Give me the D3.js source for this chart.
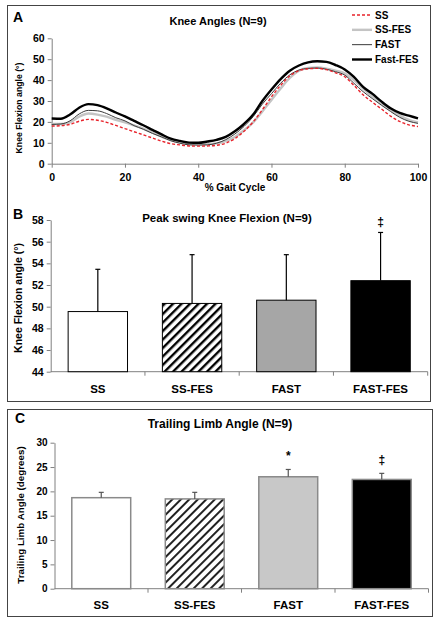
<!DOCTYPE html>
<html><head><meta charset="utf-8">
<script src="https://cdn.jsdelivr.net/npm/d3@7"></script>
<style>
body{margin:0;background:#fff}
svg{display:block}
text{font-family:"Liberation Sans",Arial,sans-serif;font-weight:bold;fill:#000}
</style>
</head><body>
<svg id="chart" width="439" height="625"></svg>
<script>
// ---------- DATA ----------
const gaitPct = [0,2.5,5,7.5,10,12.5,15,17.5,20,22.5,25,27.5,30,32.5,35,37.5,40,42.5,45,47.5,50,52.5,55,57.5,60,62.5,65,67.5,70,72.5,75,77.5,80,82.5,85,87.5,90,92.5,95,97.5,100];
const kneeSS     = [18.0,18.2,18.8,20.3,21.2,20.8,19.8,18.3,16.8,15.3,13.8,12.3,10.8,9.6,9.0,8.5,8.4,8.5,8.8,9.8,12.0,15.5,20.0,25.8,32.0,37.5,42.0,44.5,45.4,45.6,45.0,43.5,41.6,37.5,33.0,29.5,26.2,22.8,20.2,18.6,17.8];
const kneeSSFES  = [19.0,19.0,19.8,22.5,24.0,23.5,22.5,21.0,19.8,18.3,16.8,14.8,13.0,11.3,10.2,9.5,9.4,9.4,9.7,10.8,12.8,16.0,19.8,25.0,30.5,36.0,41.0,44.5,45.8,46.0,45.5,44.5,43.2,40.0,36.0,32.2,28.8,25.8,23.0,21.0,19.8];
const kneeFAST   = [18.8,19.0,20.5,23.8,25.5,25.3,24.0,22.0,20.5,18.2,16.5,14.5,12.8,11.0,9.8,9.0,8.9,9.0,9.8,11.5,14.2,17.8,22.5,28.5,33.5,38.5,42.5,44.8,45.6,45.8,45.2,44.0,42.4,38.5,34.5,31.2,28.0,25.0,22.2,20.3,19.3];
const kneeFastFES= [21.6,21.5,23.5,26.8,28.5,28.0,26.5,24.5,22.6,20.5,18.4,16.2,14.0,12.0,10.9,10.1,10.0,10.6,11.4,12.8,15.5,19.0,23.5,30.0,35.5,40.5,44.5,47.0,48.5,49.0,48.7,47.2,45.1,41.5,36.8,33.5,29.8,26.5,24.3,23.0,21.7];
const seriesNames = ["SS","SS-FES","FAST","Fast-FES"];
const kneeYTicks = [0,10,20,30,40,50,60];
const gaitXTicks = [0,20,40,60,80,100];

const barCategories = ["SS","SS-FES","FAST","FAST-FES"];
const peakMean = [49.55,50.3,50.6,52.4];
const peakSD   = [3.9,4.5,4.2,4.45];
const peakMarks = ["","","","‡"];
const peakYTicks = [44,46,48,50,52,54,56,58];

const tlaMean = [18.7,18.45,23.0,22.45];
const tlaSD   = [1.1,1.35,1.5,1.25];
const tlaMarks = ["","","*","‡"];
const tlaYTicks = [0,5,10,15,20,25,30];

// ---------- SETUP ----------
const svg = d3.select("#chart");
const axisGray = "#808080";
const defs = svg.append("defs");
function hatch(id, stroke, sw, bg){
  const p = defs.append("pattern").attr("id", id).attr("patternUnits","userSpaceOnUse")
    .attr("width", 6).attr("height", 6).attr("patternTransform","rotate(45)");
  p.append("rect").attr("width",6).attr("height",6).attr("fill",bg);
  p.append("rect").attr("x",0).attr("y",0).attr("width",sw).attr("height",6).attr("fill",stroke);
}
hatch("hatchB","#000",2.4,"#fff");
hatch("hatchC","#222",2.0,"#fff");

function styleAxis(g){
  g.selectAll(".domain").attr("stroke", axisGray).attr("stroke-width",1);
  g.selectAll(".tick line").attr("stroke", axisGray);
}

// panel boxes
svg.append("rect").attr("x",7.5).attr("y",5.5).attr("width",423).attr("height",396)
  .attr("fill","none").attr("stroke","#444").attr("stroke-width",1);
svg.append("rect").attr("x",7.5).attr("y",409.5).attr("width",425).attr("height",207)
  .attr("fill","none").attr("stroke","#444").attr("stroke-width",1);

// ---------- PANEL A ----------
const xA = d3.scaleLinear().domain([0,100]).range([51.7,418]);
const yA = d3.scaleLinear().domain([0,60]).range([163.7,38.3]);

const gAy = svg.append("g").attr("transform",`translate(${xA(0)},0)`)
  .call(d3.axisLeft(yA).tickValues(kneeYTicks).tickSize(4).tickPadding(3).tickSizeOuter(0));
gAy.selectAll("text").attr("font-size","10.5px");
styleAxis(gAy);
const gAx = svg.append("g").attr("transform",`translate(0,${yA(0)})`)
  .call(d3.axisBottom(xA).tickValues(gaitXTicks).tickSize(4).tickPadding(6).tickSizeOuter(0));
gAx.selectAll("text").attr("font-size","10.5px");
styleAxis(gAx);

svg.append("text").attr("x",13).attr("y",22).attr("font-size","14px").text("A");
svg.append("text").attr("x",218).attr("y",25).attr("text-anchor","middle").attr("font-size","11px").text("Knee Angles (N=9)");
svg.append("text").attr("x",235).attr("y",191).attr("text-anchor","middle").attr("font-size","10px").text("% Gait Cycle");
svg.append("text").attr("transform","translate(22,108) rotate(-90)").attr("text-anchor","middle")
  .attr("font-size","8.7px").text("Knee Flexion angle (°)");

const kneeSeries = [
  {name:seriesNames[0], vals:kneeSS,      color:"#e8232b", w:1.4, dash:"3,2"},
  {name:seriesNames[1], vals:kneeSSFES,   color:"#c4c4c4", w:2.4, dash:null},
  {name:seriesNames[2], vals:kneeFAST,    color:"#3a3a3a", w:1,   dash:null},
  {name:seriesNames[3], vals:kneeFastFES, color:"#000",    w:2.4, dash:null}
];
const line = d3.line().x(d=>xA(d[0])).y(d=>yA(d[1])).curve(d3.curveMonotoneX);
[1,2,0,3].forEach(i=>{
  const s = kneeSeries[i];
  svg.append("path").attr("d", line(gaitPct.map((g,j)=>[g,s.vals[j]])))
    .attr("fill","none").attr("stroke",s.color).attr("stroke-width",s.w)
    .attr("stroke-dasharray",s.dash);
});
// legend
const legY = d3.scalePoint().domain(seriesNames).range([15,59.5]);
kneeSeries.forEach(s=>{
  svg.append("line").attr("x1",352).attr("x2",372).attr("y1",legY(s.name)).attr("y2",legY(s.name))
    .attr("stroke",s.color).attr("stroke-width",s.w).attr("stroke-dasharray",s.dash);
  svg.append("text").attr("x",375).attr("y",legY(s.name)+3.6).attr("font-size","10px").text(s.name);
});

// ---------- BAR PANELS ----------
function barPanel(opt){
  const x = d3.scaleBand().domain(barCategories).range(opt.xr).paddingInner(0.37).paddingOuter(0.185);
  const y = d3.scaleLinear().domain(opt.yd).range(opt.yr);
  const gy = svg.append("g").attr("transform",`translate(${opt.xr[0]},0)`)
    .call(d3.axisLeft(y).tickValues(opt.ticks).tickSize(4).tickPadding(3).tickSizeOuter(0));
  gy.selectAll("text").attr("font-size",opt.tickFont);
  styleAxis(gy);
  // x axis line
  svg.append("line").attr("x1",opt.xr[0]).attr("x2",opt.xr[1]).attr("y1",y(opt.yd[0])).attr("y2",y(opt.yd[0]))
    .attr("stroke",axisGray);
  barCategories.forEach((c,i)=>{
    const bx = opt.xr[0] + (i+1)*x.step();
    svg.append("line").attr("x1",bx).attr("x2",bx).attr("y1",y(opt.yd[0])).attr("y2",y(opt.yd[0])+4)
      .attr("stroke",axisGray);
  });
  // bars
  barCategories.forEach((c,i)=>{
    const v = opt.mean[i];
    svg.append("rect").attr("x",x(c)).attr("y",y(v)).attr("width",x.bandwidth()).attr("height",y(opt.yd[0])-y(v))
      .attr("fill",opt.fills[i]).attr("stroke",opt.barStroke).attr("stroke-width",opt.barSW);
    const cx = x(c)+x.bandwidth()/2;
    svg.append("line").attr("x1",cx).attr("x2",cx).attr("y1",y(v)).attr("y2",y(v+opt.sd[i]))
      .attr("stroke",opt.errColor).attr("stroke-width",1.2);
    svg.append("line").attr("x1",cx-2.5).attr("x2",cx+2.5).attr("y1",y(v+opt.sd[i])).attr("y2",y(v+opt.sd[i]))
      .attr("stroke",opt.errColor).attr("stroke-width",1.2);
    if(opt.marks[i]){
      svg.append("text").attr("x",cx).attr("y",y(v+opt.sd[i])+opt.markDy).attr("text-anchor","middle")
        .attr("font-size","12px").text(opt.marks[i]);
    }
    svg.append("text").attr("x",cx).attr("y",opt.catY).attr("text-anchor","middle")
      .attr("font-size","11.5px").text(c);
  });
}

// PANEL B
svg.append("text").attr("x",13).attr("y",219).attr("font-size","14px").text("B");
svg.append("text").attr("x",227).attr("y",222).attr("text-anchor","middle").attr("font-size","11.5px").text("Peak swing Knee Flexion (N=9)");
svg.append("text").attr("transform","translate(22,298) rotate(-90)").attr("text-anchor","middle")
  .attr("font-size","10.5px").text("Knee Flexion angle  (°)");
barPanel({xr:[50.7,427.7], yd:[44,58], yr:[371.7,220], ticks:peakYTicks, tickFont:"10.5px",
  mean:peakMean, sd:peakSD, marks:peakMarks, markDy:-6,
  fills:["#fff","url(#hatchB)","#a6a6a6","#000"], barStroke:"#000", barSW:1, errColor:"#000", catY:393});

// PANEL C
svg.append("text").attr("x",15).attr("y",423).attr("font-size","14px").text("C");
svg.append("text").attr("x",220).attr("y",428).attr("text-anchor","middle").attr("font-size","12px").text("Trailing Limb Angle (N=9)");
svg.append("text").attr("transform","translate(24,515) rotate(-90)").attr("text-anchor","middle")
  .attr("font-size","9.8px").text("Trailing Limb Angle (degrees)");
barPanel({xr:[54.5,428.5], yd:[0,30], yr:[588.7,442.7], ticks:tlaYTicks, tickFont:"10px",
  mean:tlaMean, sd:tlaSD, marks:tlaMarks, markDy:-9,
  fills:["#fff","url(#hatchC)","#c8c8c8","#000"], barStroke:"#8a8a8a", barSW:1.5, errColor:"#555", catY:609});
</script>
</body></html>
